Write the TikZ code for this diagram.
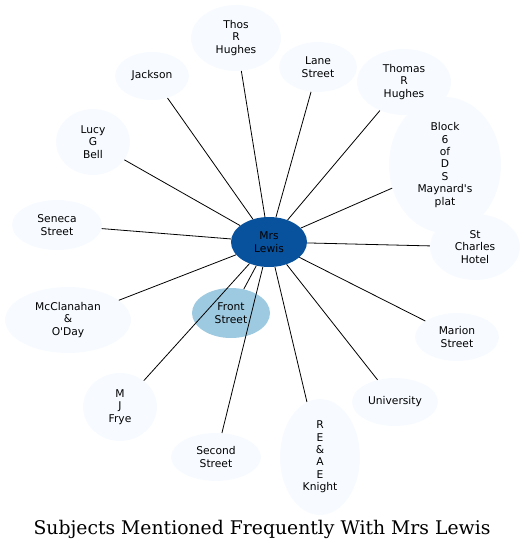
\documentclass[tikz,border=0pt]{standalone}
\usepackage{fontspec}
\newfontfamily\nodefont{DejaVu Sans}
\newfontfamily\titlefont{DejaVu Serif}
\usetikzlibrary{shapes.geometric}
\definecolor{leaffill}{HTML}{F7FBFF}
\definecolor{hubfill}{HTML}{08519C}
\definecolor{midfill}{HTML}{9ECAE1}
\tikzset{
  leaf/.style={ellipse, fill=leaffill, inner sep=0pt, align=center,
    font=\nodefont\fontsize{10.7}{12.4}\selectfont},
  hub/.style={leaf, fill=hubfill},
  mid/.style={leaf, fill=midfill},
  link/.style={line width=0.8pt, black},
}
\begin{document}
\begin{tikzpicture}[x=1pt,y=-1pt]
\useasboundingbox (0,0) rectangle (525,552);
\node[hub, minimum width=76, minimum height=50] (c) at (269,242) {Mrs\\Lewis};
\node[leaf, minimum width=90, minimum height=66] (a) at (236,38) {Thos\\R\\Hughes};
\node[leaf, minimum width=78, minimum height=50] (b) at (318,67) {Lane\\Street};
\node[leaf, minimum width=94, minimum height=66] (d) at (404,82) {Thomas\\R\\Hughes};
\node[leaf, minimum width=112, minimum height=136] (e) at (445,165) {Block\\6\\of\\D\\S\\Maynard's\\plat};
\node[leaf, minimum width=90, minimum height=66] (f) at (475,247) {St\\Charles\\Hotel};
\node[leaf, minimum width=84, minimum height=48] (g) at (457,337) {Marion\\Street};
\node[leaf, minimum width=86, minimum height=48] (h) at (395,402) {University};
\node[leaf, minimum width=80, minimum height=116] (i) at (320,457) {R\\E\\\&\\A\\E\\Knight};
\node[leaf, minimum width=90, minimum height=48] (j) at (216,457) {Second\\Street};
\node[leaf, minimum width=74, minimum height=68] (k) at (120,407) {M\\J\\Frye};
\node[mid, minimum width=78, minimum height=50] (l) at (231,313) {Front\\Street};
\node[leaf, minimum width=126, minimum height=66] (m) at (68,320) {McClanahan\\\&\\O'Day};
\node[leaf, minimum width=90, minimum height=50] (n) at (57,225) {Seneca\\Street};
\node[leaf, minimum width=74, minimum height=66] (o) at (93,142) {Lucy\\G\\Bell};
\node[leaf, minimum width=74, minimum height=48] (p) at (152,76) {Jackson};
\foreach \t in {a,b,d,e,f,g,h,i,j,k,l,m,n,o,p} \draw[link] (c) -- (\t);
\node[font=\titlefont\fontsize{18.8}{22}\selectfont] (title) at (262,529) {Subjects Mentioned Frequently With Mrs Lewis};
\end{tikzpicture}
\end{document}
